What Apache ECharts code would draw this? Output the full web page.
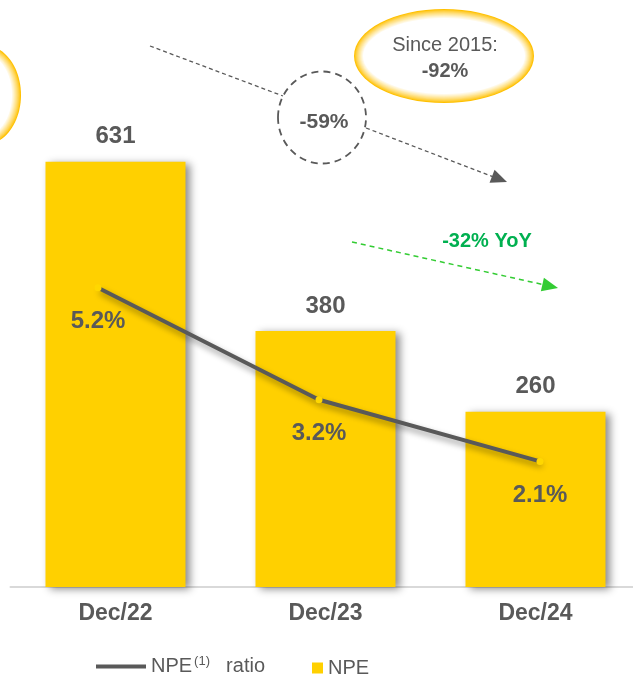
<!DOCTYPE html>
<html>
<head>
<meta charset="utf-8">
<script src="https://cdn.jsdelivr.net/npm/echarts@6/dist/echarts.min.js"></script>
<style>
  html, body { margin: 0; padding: 0; background: #fff; }
  #chart { width: 633px; height: 675px; }
</style>
</head>
<body>
<div id="chart"></div>
<script>
// data
var categories = ['Dec/22', 'Dec/23', 'Dec/24']
var npeValues = [631, 380, 260]
var npeRatio = [5.2, 3.2, 2.1]

var grey = '#595959'
var yellow = '#ffd000'
var font = '"Liberation Sans", Arial, sans-serif'

// soft yellow ring: stacked ellipses fading to white
function glowEllipse(cx, cy, rx, ry) {
  var out = []
  var steps = 9
  for (var i = 0; i <= steps; i++) {
    var t = Math.pow(i / steps, 0.8)
    var g = Math.round(192 + (255 - 192) * t)
    var b = Math.round(0 + 255 * t)
    out.push({
      type: 'ellipse',
      silent: true,
      shape: { cx: cx, cy: cy, rx: rx - i, ry: ry - i },
      style: { fill: 'rgb(255,' + g + ',' + b + ')' }
    })
  }
  return out
}

function arrowHead(tx, ty, angleDeg, len, half, color) {
  var a = angleDeg * Math.PI / 180
  var ux = Math.cos(a), uy = Math.sin(a)
  var nx = -uy, ny = ux
  var bx = tx - len * ux, by = ty - len * uy
  return {
    type: 'polygon',
    silent: true,
    shape: { points: [[tx, ty], [bx + half * nx, by + half * ny], [bx - half * nx, by - half * ny]] },
    style: { fill: color }
  }
}

var graphics = []
  .concat(glowEllipse(-16, 95, 37, 50))
  .concat(glowEllipse(444, 56, 90, 47))
  .concat([
    {
      type: 'text', silent: true,
      style: { x: 445, y: 45, text: 'Since 2015:', fill: grey, font: '20px ' + font, textAlign: 'center', textVerticalAlign: 'middle' }
    },
    {
      type: 'text', silent: true,
      style: { x: 445, y: 71, text: '-92%', fill: grey, font: 'bold 20px ' + font, textAlign: 'center', textVerticalAlign: 'middle' }
    },
    // grey dashed trend arrow
    {
      type: 'line', silent: true,
      shape: { x1: 150, y1: 46, x2: 283, y2: 96 },
      style: { stroke: grey, lineWidth: 1.3, lineDash: [4, 3] }
    },
    {
      type: 'line', silent: true,
      shape: { x1: 366, y1: 128, x2: 495, y2: 177.5 },
      style: { stroke: grey, lineWidth: 1.3, lineDash: [4, 3] }
    },
    arrowHead(507, 182, 21, 16, 7, grey),
    {
      type: 'ellipse', silent: true,
      shape: { cx: 322, cy: 117.5, rx: 44, ry: 46 },
      style: { fill: 'none', stroke: grey, lineWidth: 1.8, lineDash: [7, 5] }
    },
    {
      type: 'text', silent: true,
      style: { x: 324, y: 122, text: '-59%', fill: grey, font: 'bold 21px ' + font, textAlign: 'center', textVerticalAlign: 'middle' }
    },
    // green YoY arrow
    {
      type: 'line', silent: true,
      shape: { x1: 352, y1: 242, x2: 545, y2: 285 },
      style: { stroke: '#33cc33', lineWidth: 1.5, lineDash: [5, 4] }
    },
    arrowHead(558, 288, 12.6, 16, 7, '#33cc33'),
    {
      type: 'text', silent: true,
      style: { x: 487, y: 241, text: '-32% YoY', fill: '#00b050', font: 'bold 20px ' + font, textAlign: 'center', textVerticalAlign: 'middle' }
    }
  ])

var chart = echarts.init(document.getElementById('chart'))

chart.setOption({
  animation: false,
  textStyle: { fontFamily: font },
  grid: [
    { left: 10.5, width: 630, top: 48, bottom: 88, outerBoundsMode: 'none', containLabel: false },
    { left: -12.5, width: 663, top: 19, bottom: 96, outerBoundsMode: 'none', containLabel: false }
  ],
  legend: [
    {
      data: [{ name: 'ratio', itemStyle: { color: grey } }],
      left: 91,
      top: 650,
      icon: 'rect',
      itemWidth: 50,
      itemHeight: 4,
      textStyle: {
        color: grey, fontSize: 20,
        rich: { sup: { fontSize: 13, color: grey, padding: [0, 5, 10, 2] } }
      },
      formatter: function () {
        return 'NPE{sup|(1)}  ratio'
      }
    },
    {
      data: ['NPE'],
      left: 307,
      top: 653,
      icon: 'rect',
      itemWidth: 11,
      itemHeight: 11,
      textStyle: { color: grey, fontSize: 20 }
    }
  ],
  xAxis: [
    {
      type: 'category',
      gridIndex: 0,
      data: categories,
      axisTick: { show: false },
      axisLine: { lineStyle: { color: '#d9d9d9', width: 2 } },
      axisLabel: { color: grey, fontSize: 23, fontWeight: 'bold', margin: 15 }
    },
    {
      type: 'category',
      gridIndex: 1,
      data: categories,
      show: false
    }
  ],
  yAxis: [
    { type: 'value', gridIndex: 0, min: 0, max: 800, show: false, splitLine: { show: false } },
    { type: 'value', gridIndex: 1, min: 0, max: 10, show: false, splitLine: { show: false } }
  ],
  series: [
    {
      name: 'NPE',
      type: 'bar',
      xAxisIndex: 0,
      yAxisIndex: 0,
      data: npeValues,
      barWidth: 140,
      itemStyle: {
        color: yellow,
        shadowColor: 'rgba(0,0,0,0.45)',
        shadowBlur: 8,
        shadowOffsetX: 4,
        shadowOffsetY: 2
      },
      label: {
        show: true,
        position: 'top',
        distance: 13,
        color: grey,
        fontSize: 24,
        fontWeight: 'bold'
      }
    },
    {
      name: 'ratio',
      type: 'line',
      xAxisIndex: 1,
      yAxisIndex: 1,
      data: npeRatio,
      z: 5,
      symbol: 'circle',
      symbolSize: 7,
      itemStyle: { color: '#ffd700', borderWidth: 0 },
      lineStyle: {
        color: grey,
        width: 4,
        shadowColor: 'rgba(0,0,0,0.4)',
        shadowBlur: 6,
        shadowOffsetX: 2,
        shadowOffsetY: 4
      },
      label: {
        show: true,
        position: 'bottom',
        distance: 18,
        color: grey,
        fontSize: 24,
        fontWeight: 'bold',
        formatter: function (p) {
          return p.value.toFixed(1) + '%'
        }
      }
    }
  ],
  graphic: graphics
})
</script>
</body>
</html>
